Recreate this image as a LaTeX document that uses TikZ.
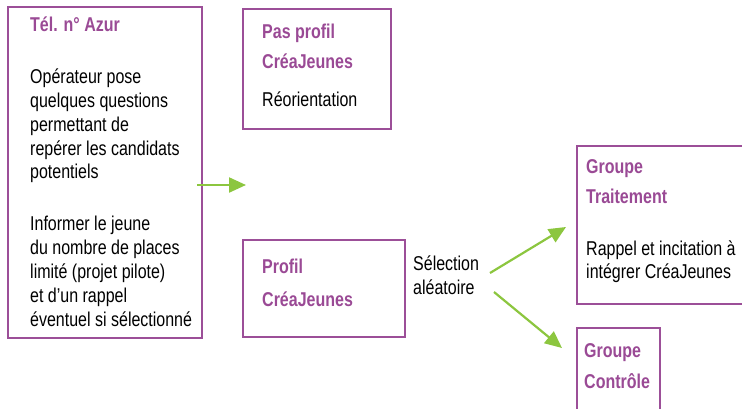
\documentclass[tikz,border=0pt]{standalone}
\usepackage{fontspec}
\setmainfont{Liberation Sans}[FakeStretch=0.8]
\usetikzlibrary{arrows.meta}
\definecolor{boxpurple}{HTML}{9C4F98}
\definecolor{headpurple}{HTML}{9A4A95}
\definecolor{arrgreen}{HTML}{8CC63F}
\tikzset{
  box/.style={draw=boxpurple, line width=2.2pt, rectangle, inner sep=0pt, anchor=north west},
  txt/.style={anchor=base west, inner sep=0pt, font=\fontsize{20}{24}\selectfont, text=black},
  head/.style={txt, font=\fontsize{20}{24}\selectfont\bfseries, text=headpurple},
  garrow/.style={draw=arrgreen, line width=2.2pt, -{Triangle[length=17pt,width=15pt]}}
}
\begin{document}
\begin{tikzpicture}[x=1pt,y=-1pt]
\useasboundingbox (0,0) rectangle (742,408);
% boxes
\node[box, minimum width=194pt, minimum height=331pt] (azur) at (7,6) {};
\node[box, minimum width=148pt, minimum height=120pt] (pas) at (242,8) {};
\node[box, minimum width=162pt, minimum height=97pt] (profil) at (242,239) {};
\node[box, minimum width=175pt, minimum height=158pt] (trait) at (576,145) {};
\node[box, minimum width=83pt, minimum height=90pt] (ctrl) at (576,327) {};
% box 1 text
\node[head] (t1) at (30,31) {Tél. n° Azur};
\node[txt] (a1) at (30,83) {Opérateur pose};
\node[txt] (a2) at (30,107) {quelques questions};
\node[txt] (a3) at (30,131) {permettant de};
\node[txt] (a4) at (30,155) {repérer les candidats};
\node[txt] (a5) at (30,178) {potentiels};
\node[txt] (b1) at (30,230) {Informer le jeune};
\node[txt] (b2) at (30,254) {du nombre de places};
\node[txt] (b3) at (30,278) {limité (projet pilote)};
\node[txt] (b4) at (30,302) {et d’un rappel};
\node[txt] (b5) at (30,326) {éventuel si sélectionné};
% box 2 text
\node[head] (t2) at (262,38) {Pas profil};
\node[head] (t2b) at (262,68) {CréaJeunes};
\node[txt] (r1) at (262,106) {Réorientation};
% box 3 text
\node[head] (t3) at (262,273) {Profil};
\node[head] (t3b) at (262,306) {CréaJeunes};
% selection
\node[txt] (s1) at (413,270) {Sélection};
\node[txt] (s2) at (413,294) {aléatoire};
% box 4 text
\node[head] (t4) at (586,173) {Groupe};
\node[head] (t4b) at (586,203) {Traitement};
\node[txt] (g1) at (586,255) {Rappel et incitation à};
\node[txt] (g2) at (586,278) {intégrer CréaJeunes};
% box 5 text
\node[head] (t5) at (584,357) {Groupe};
\node[head] (t5b) at (584,388) {Contrôle};
% arrows
\coordinate (a0) at (197,185);
\coordinate (a1e) at (246,185);
\coordinate (s0) at (490,273);
\coordinate (s1e) at (566,227);
\coordinate (s2s) at (494,292);
\coordinate (s2e) at (562,348);
\draw[garrow] (a0) -- (a1e);
\draw[garrow] (s0) -- (s1e);
\draw[garrow] (s2s) -- (s2e);
\end{tikzpicture}
\end{document}
